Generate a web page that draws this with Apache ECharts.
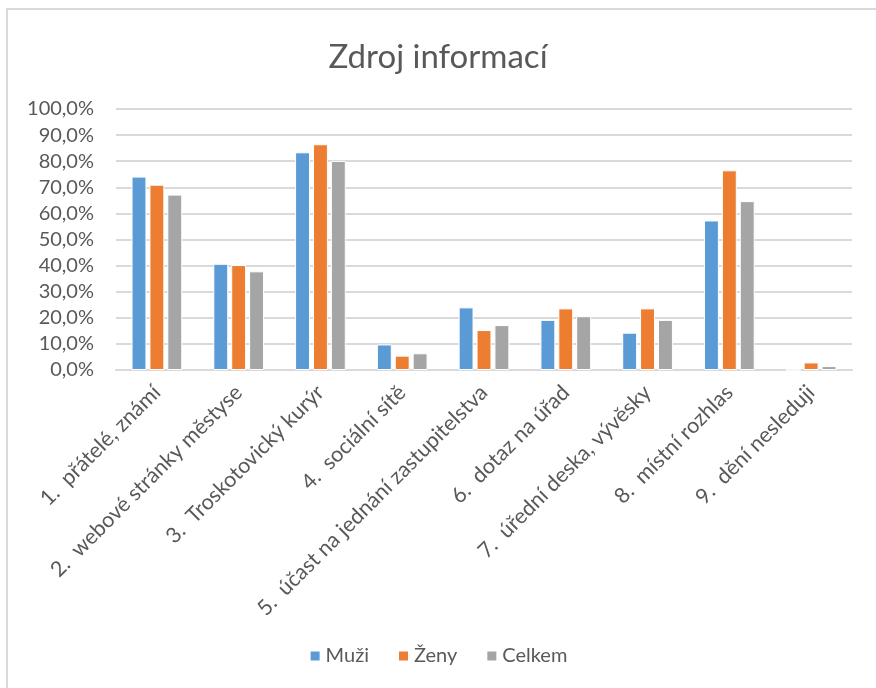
<!DOCTYPE html>
<html>
<head>
<meta charset="utf-8">
<script src="https://cdn.jsdelivr.net/npm/echarts@6/dist/echarts.min.js"></script>
<style>
  html, body { margin: 0; padding: 0; background: #fff; }
  #frame { position: absolute; left: 6px; top: 8px; width: 900px; height: 700px; border-left: 2px solid #d9d9d9; border-top: 2px solid #d9d9d9; }
  #main { position: absolute; left: 0; top: 0; width: 876px; height: 688px; }
</style>
</head>
<body>
<div id="frame"></div>
<div id="main"></div>
<script>
// categories and values (percent)
const categories = [
  '1.  přátelé, známí',
  '2.  webové stránky městyse',
  '3.  Troskotovický kurýr',
  '4.  sociální sítě',
  '5.  účast na jednání zastupitelstva',
  '6.  dotaz na úřad',
  '7.  úřední deska, vývěsky',
  '8.  místní rozhlas',
  '9.  dění nesleduji'
]
const muzi = [74.1, 40.7, 83.4, 9.8, 24.0, 19.2, 14.3, 57.3, 0]
const zeny = [71.0, 40.2, 86.5, 5.5, 15.3, 23.6, 23.6, 76.5, 2.9]
const celkem = [67.2, 37.8, 80.1, 6.4, 17.2, 20.6, 19.2, 64.7, 1.5]

const textColor = '#595959'
const font = 'Lato, "Open Sans", sans-serif'

const chart = echarts.init(document.getElementById('main'))

const barStyle = (color) => ({
  color: color,
  borderColor: '#fff',
  borderWidth: 1
})

chart.setOption({
  animation: false,
  textStyle: { fontFamily: font },
  title: {
    text: 'Zdroj informací',
    left: 'center',
    top: 36,
    textStyle: { fontFamily: font, fontSize: 33, fontWeight: 'normal', color: textColor }
  },
  legend: {
    bottom: 17,
    left: 'center',
    itemWidth: 11,
    itemHeight: 11,
    itemGap: 28,
    icon: 'rect',
    textStyle: { fontFamily: font, fontSize: 20, color: textColor },
    data: ['Muži', 'Ženy', 'Celkem']
  },
  grid: {
    left: 116,
    right: 24,
    top: 109,
    bottom: 318
  },
  xAxis: {
    type: 'category',
    data: categories,
    axisLine: { lineStyle: { color: '#d9d9d9', width: 2 } },
    axisTick: { show: false },
    axisLabel: {
      interval: 0,
      rotate: 45,
      margin: 19,
      fontFamily: font,
      fontSize: 21.5,
      color: textColor
    }
  },
  yAxis: {
    type: 'value',
    min: 0,
    max: 100,
    interval: 10,
    axisLine: { show: false },
    axisTick: { show: false },
    splitLine: { lineStyle: { color: '#d9d9d9', width: 2 } },
    axisLabel: {
      margin: 22,
      fontFamily: font,
      fontSize: 20,
      color: textColor,
      formatter: (v) => v.toFixed(1).replace('.', ',') + '%'
    }
  },
  series: [
    { name: 'Muži', type: 'bar', data: muzi, barGap: '20%', barCategoryGap: '38%', itemStyle: barStyle('#5b9bd5') },
    { name: 'Ženy', type: 'bar', data: zeny, barGap: '20%', barCategoryGap: '38%', itemStyle: barStyle('#ed7d31') },
    { name: 'Celkem', type: 'bar', data: celkem, barGap: '20%', barCategoryGap: '38%', itemStyle: barStyle('#a5a5a5') }
  ]
})
</script>
</body>
</html>
